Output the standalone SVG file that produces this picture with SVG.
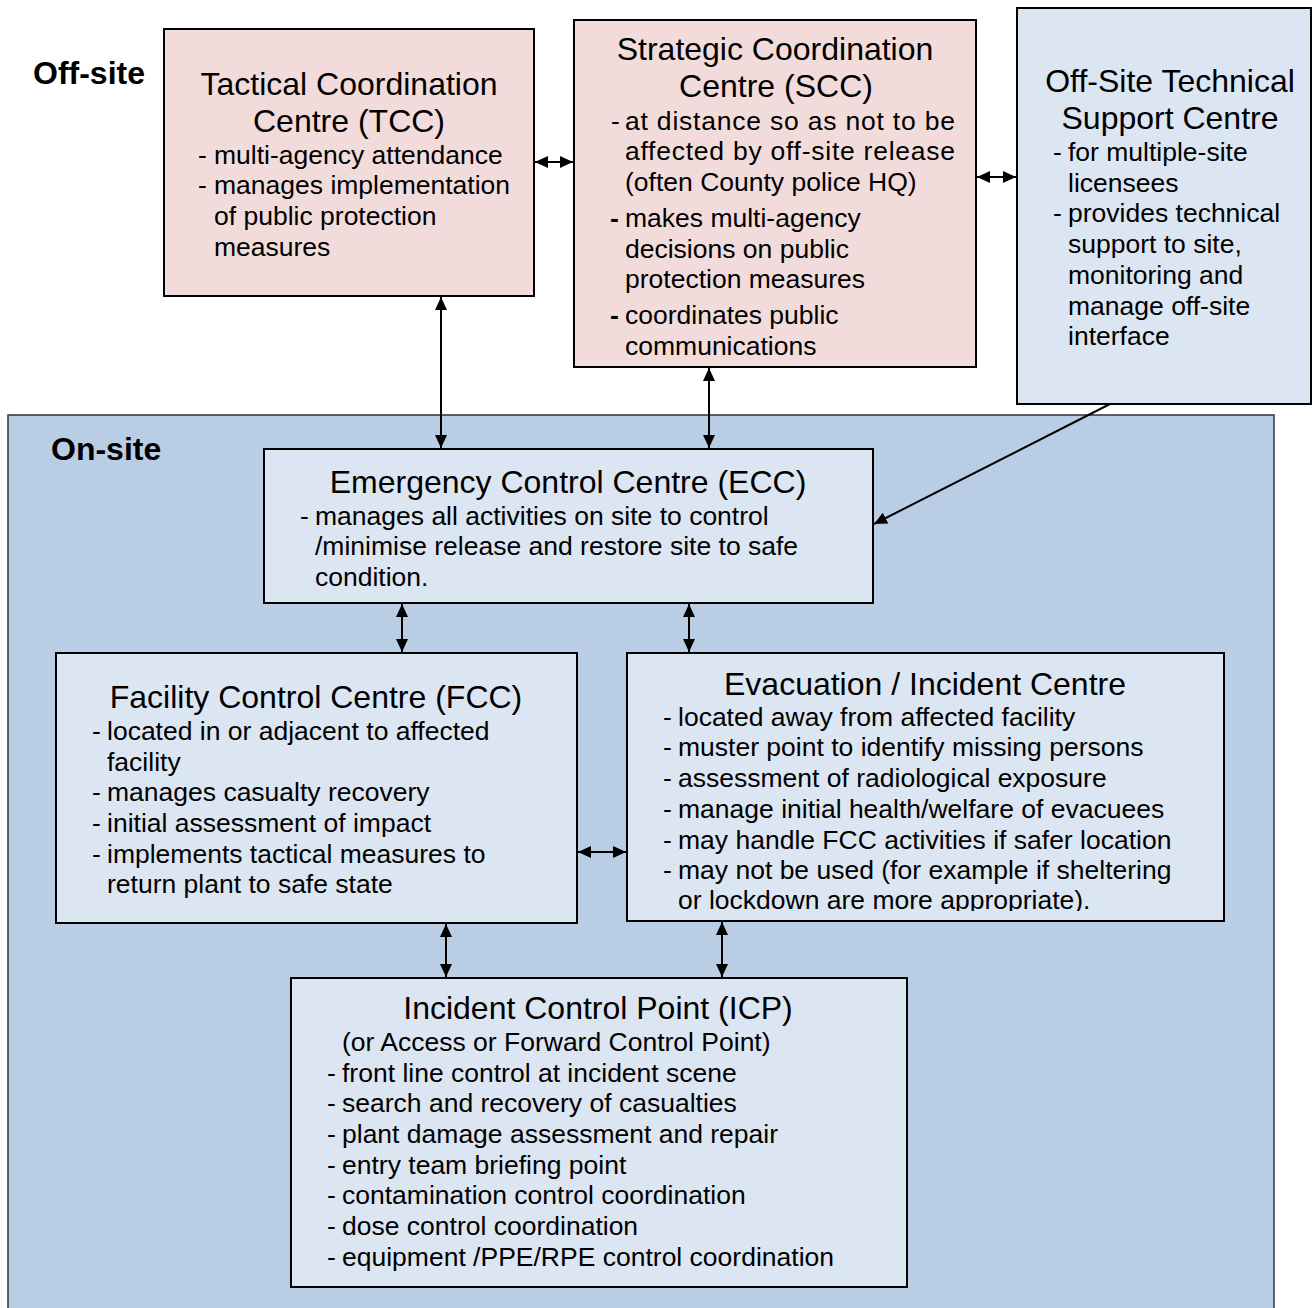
<svg xmlns="http://www.w3.org/2000/svg" width="1312" height="1308" viewBox="0 0 1312 1308">
<style>
text{font-family:"Liberation Sans",Arial,sans-serif;fill:#000}
.t{font-size:32px;text-anchor:middle}
.b{font-size:26.5px}
.lbl{font-size:32px;font-weight:bold}
.pink{fill:#f2dcdb;stroke:#000;stroke-width:2}
.blue{fill:#dce6f2;stroke:#000;stroke-width:2}
.con{fill:none;stroke:#000;stroke-width:2}
</style>
<defs>
<marker id="ah" viewBox="0 0 13 12" refX="13" refY="6" markerWidth="13" markerHeight="12" markerUnits="userSpaceOnUse" orient="auto-start-reverse">
<path d="M0,0 L13,6 L0,12 z" fill="#000"/>
</marker>
<clipPath id="evclip"><rect x="627" y="653" width="597" height="258"/></clipPath>
</defs>
<rect width="1312" height="1308" fill="#fff"/>

<g id="onsite-area">
<rect x="8" y="415" width="1266" height="900" fill="#b9cde5" stroke="#333" stroke-width="1.5"/>
<text class="lbl" x="51" y="460">On-site</text>
</g>

<g id="offsite-label">
<text class="lbl" x="33" y="84">Off-site</text>
</g>

<g id="tcc">
<rect class="pink" x="164" y="29" width="370" height="267"/>
<text class="t" x="349" y="95">Tactical Coordination</text>
<text class="t" x="349" y="132">Centre (TCC)</text>
<text class="b" x="198" y="164">-</text><text class="b" x="214" y="164">multi-agency attendance</text>
<text class="b" x="198" y="194">-</text><text class="b" x="214" y="194">manages implementation</text>
<text class="b" x="214" y="225">of public protection</text>
<text class="b" x="214" y="256">measures</text>
</g>

<g id="scc">
<rect class="pink" x="574" y="20" width="402" height="347"/>
<text class="t" x="775" y="60">Strategic Coordination</text>
<text class="t" x="776" y="97">Centre (SCC)</text>
<text class="b" x="611" y="130">-</text><text class="b" x="625" y="130" textLength="330" lengthAdjust="spacing">at distance so as not to be</text>
<text class="b" x="625" y="160" textLength="330" lengthAdjust="spacing">affected by off-site release</text>
<text class="b" x="625" y="191">(often County police HQ)</text>
<text class="b" x="610" y="227" style="font-weight:bold">-</text><text class="b" x="625" y="227">makes multi-agency</text>
<text class="b" x="625" y="258">decisions on public</text>
<text class="b" x="625" y="288">protection measures</text>
<text class="b" x="610" y="324" style="font-weight:bold">-</text><text class="b" x="625" y="324">coordinates public</text>
<text class="b" x="625" y="355">communications</text>
</g>

<g id="ostsc">
<rect class="blue" x="1017" y="8" width="294" height="396"/>
<text class="t" x="1170" y="92">Off-Site Technical</text>
<text class="t" x="1170" y="129">Support Centre</text>
<text class="b" x="1053" y="161">-</text><text class="b" x="1068" y="161">for multiple-site</text>
<text class="b" x="1068" y="192">licensees</text>
<text class="b" x="1053" y="222">-</text><text class="b" x="1068" y="222">provides technical</text>
<text class="b" x="1068" y="253">support to site,</text>
<text class="b" x="1068" y="284">monitoring and</text>
<text class="b" x="1068" y="315">manage off-site</text>
<text class="b" x="1068" y="345">interface</text>
</g>

<g id="ecc">
<rect class="blue" x="264" y="449" width="609" height="154"/>
<text class="t" x="568" y="493">Emergency Control Centre (ECC)</text>
<text class="b" x="300" y="525">-</text><text class="b" x="315" y="525">manages all activities on site to control</text>
<text class="b" x="315" y="555">/minimise release and restore site to safe</text>
<text class="b" x="315" y="586">condition.</text>
</g>

<g id="fcc">
<rect class="blue" x="56" y="653" width="521" height="270"/>
<text class="t" x="316" y="708">Facility Control Centre (FCC)</text>
<text class="b" x="92" y="740">-</text><text class="b" x="107" y="740">located in or adjacent to affected</text>
<text class="b" x="107" y="771">facility</text>
<text class="b" x="92" y="801">-</text><text class="b" x="107" y="801">manages casualty recovery</text>
<text class="b" x="92" y="832">-</text><text class="b" x="107" y="832">initial assessment of impact</text>
<text class="b" x="92" y="863">-</text><text class="b" x="107" y="863">implements tactical measures to</text>
<text class="b" x="107" y="893">return plant to safe state</text>
</g>

<g id="evac">
<rect class="blue" x="627" y="653" width="597" height="268"/>
<text class="t" x="925" y="695">Evacuation / Incident Centre</text>
<g clip-path="url(#evclip)">
<text class="b" x="663" y="726">-</text><text class="b" x="678" y="726">located away from affected facility</text>
<text class="b" x="663" y="756">-</text><text class="b" x="678" y="756">muster point to identify missing persons</text>
<text class="b" x="663" y="787">-</text><text class="b" x="678" y="787">assessment of radiological exposure</text>
<text class="b" x="663" y="818">-</text><text class="b" x="678" y="818">manage initial health/welfare of evacuees</text>
<text class="b" x="663" y="849">-</text><text class="b" x="678" y="849">may handle FCC activities if safer location</text>
<text class="b" x="663" y="879">-</text><text class="b" x="678" y="879">may not be used (for example if sheltering</text>
<text class="b" x="678" y="909">or lockdown are more appropriate).</text>
</g>
</g>

<g id="icp">
<rect class="blue" x="291" y="978" width="616" height="309"/>
<text class="t" x="598" y="1019">Incident Control Point (ICP)</text>
<text class="b" x="342" y="1051">(or Access or Forward Control Point)</text>
<text class="b" x="327" y="1082">-</text><text class="b" x="342" y="1082">front line control at incident scene</text>
<text class="b" x="327" y="1112">-</text><text class="b" x="342" y="1112">search and recovery of casualties</text>
<text class="b" x="327" y="1143">-</text><text class="b" x="342" y="1143">plant damage assessment and repair</text>
<text class="b" x="327" y="1174">-</text><text class="b" x="342" y="1174">entry team briefing point</text>
<text class="b" x="327" y="1204">-</text><text class="b" x="342" y="1204">contamination control coordination</text>
<text class="b" x="327" y="1235">-</text><text class="b" x="342" y="1235">dose control coordination</text>
<text class="b" x="327" y="1266">-</text><text class="b" x="342" y="1266">equipment /PPE/RPE control coordination</text>
</g>

<g id="connectors">
<path class="con" d="M535,162 H573" marker-start="url(#ah)" marker-end="url(#ah)"/>
<path class="con" d="M977,177 H1016" marker-start="url(#ah)" marker-end="url(#ah)"/>
<path class="con" d="M441,297 V448" marker-start="url(#ah)" marker-end="url(#ah)"/>
<path class="con" d="M709,368 V448" marker-start="url(#ah)" marker-end="url(#ah)"/>
<path class="con" d="M1110,404 L874,524" marker-end="url(#ah)"/>
<path class="con" d="M402,604 V652" marker-start="url(#ah)" marker-end="url(#ah)"/>
<path class="con" d="M689,604 V652" marker-start="url(#ah)" marker-end="url(#ah)"/>
<path class="con" d="M578,852 H626" marker-start="url(#ah)" marker-end="url(#ah)"/>
<path class="con" d="M446,924 V977" marker-start="url(#ah)" marker-end="url(#ah)"/>
<path class="con" d="M722,922 V977" marker-start="url(#ah)" marker-end="url(#ah)"/>
</g>
</svg>
